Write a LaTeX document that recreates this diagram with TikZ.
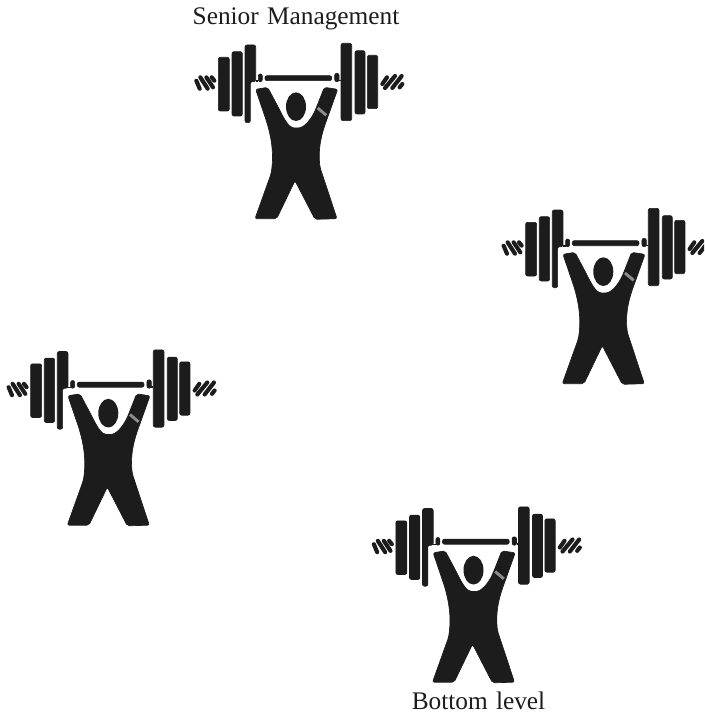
\documentclass[tikz,border=0pt]{standalone}
\usepackage{fontspec}
\setmainfont[WordSpace=1.3]{Liberation Serif}
\definecolor{LiftBlack}{HTML}{1C1C1C}
\definecolor{LiftGray}{HTML}{8C8C8C}
\begin{document}
\begin{tikzpicture}[
  x=0.75pt,y=-0.75pt,
  plate/.style={fill=LiftBlack,draw=LiftBlack,line width=0.5pt,rounded corners=1.5pt},
  grip/.style={draw=LiftBlack,line width=3.1pt,line cap=round},
  label/.style={font=\fontsize{19}{22}\selectfont,text=LiftBlack,inner sep=0pt,anchor=base},
  lifter/.pic={
    % zoomed crop units, three to a pixel
    \begin{scope}[x=0.25pt,y=-0.25pt]
      % plates on the left
      \path[plate] (100,82) rectangle (133,243);
      \path[plate] (141,65) rectangle (172,258);
      \path[plate] (180,45) -- (212,45) -- (212,155) -- (196,155) -- (196,278) -- (180,278) -- cycle;
      % plates on the right
      \path[plate] (468,40) rectangle (500,272);
      \path[plate] (510,62) rectangle (540,252);
      \path[plate] (547,76) rectangle (578,236);
      % bar
      \path[plate] (240,137) rectangle (440,152);
      \path[plate] (220,132) rectangle (232,155);
      \path[plate] (449,130) rectangle (462,155);
      \fill[LiftBlack] (212,151) rectangle (220,155);
      \fill[LiftBlack] (462,149) rectangle (468,153);
      % ends of the bar
      \draw[grip] (34,152) -- (44,176);
      \draw[grip] (46,142) -- (68,176);
      \draw[grip] (64,142) -- (84,172);
      \draw[grip] (80,142) -- (88,152);
      \draw[grip] (592,162) -- (606,142);
      \draw[grip] (600,174) -- (630,138);
      \draw[grip] (622,174) -- (650,138);
      \draw[grip] (644,172) -- (652,162);
      % the man
      \fill[LiftBlack] (333,230) ellipse [x radius=30,y radius=43];
      \path[plate] (212,178) -- (248,172) -- (282,236)
        .. controls (298,268) and (312,294) .. (333,294)
        .. controls (358,294) and (378,268) .. (392,238)
        -- (418,172) -- (458,178) -- (428,262)
        .. controls (412,305) and (398,350) .. (405,412)
        -- (456,566) -- (390,568) -- (330,452) -- (275,566) -- (210,566) -- (258,432)
        .. controls (268,370) and (258,320) .. (245,275) -- cycle;
      \draw[LiftGray,line width=2.2pt] (398,234) -- (424,256);
    \end{scope}
  }
]
\useasboundingbox (0,0) rectangle (704,713);
\begin{scope}
  \clip (0,0) rectangle (704,713);
  \pic at (185,30) {lifter};
  \pic at (492.3,195) {lifter};
  \pic at (-2.7,336.5) {lifter};
  \pic at (362.5,493.5) {lifter};
\end{scope}
\node[label] (senior) at (296,25) {Senior Management};
\node[label] (bottom) at (478.5,709) {Bottom level};
\end{tikzpicture}
\end{document}
